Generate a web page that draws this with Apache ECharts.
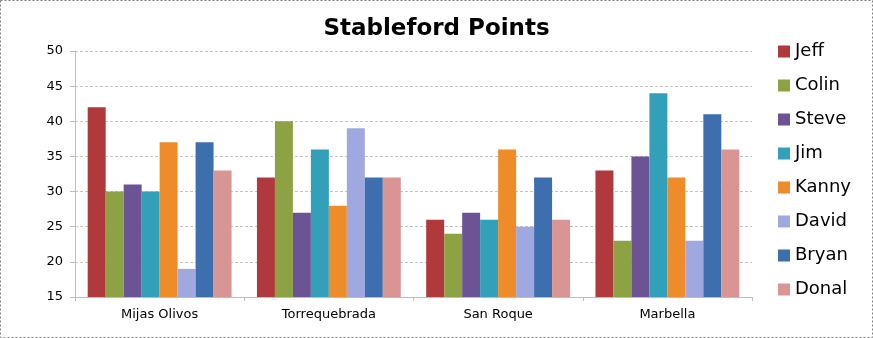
<!DOCTYPE html>
<html><head><meta charset="utf-8">
<script src="https://cdn.jsdelivr.net/npm/echarts@6/dist/echarts.min.js"></script>
<style>html,body{margin:0;padding:0;background:#fff}#c{width:873px;height:338px}</style>
</head><body><div id="c"></div>
<script>
const categories = ['Mijas Olivos', 'Torrequebrada', 'San Roque', 'Marbella'];
const players = ['Jeff', 'Colin', 'Steve', 'Jim', 'Kanny', 'David', 'Bryan', 'Donal'];
const jeff  = [42, 32, 26, 33];
const colin = [30, 40, 24, 23];
const steve = [31, 27, 27, 35];
const jim   = [30, 36, 26, 44];
const kanny = [37, 28, 36, 32];
const david = [19, 39, 25, 23];
const bryan = [37, 32, 32, 41];
const donal = [33, 32, 26, 36];
const seriesValues = [jeff, colin, steve, jim, kanny, david, bryan, donal];
const colors = ['#B0393B', '#8DA343', '#6B5396', '#33A0BA', '#EE8C2A', '#A0A9DF', '#3D6FAF', '#D99594'];
const yTicks = [15, 20, 25, 30, 35, 40, 45, 50];

const chart = echarts.init(document.getElementById('c'));
chart.setOption({
  animation: false,
  color: colors,
  title: {
    text: 'Stableford Points', left: 'center', top: 13,
    textStyle: { fontFamily: 'DejaVu Sans', fontWeight: 'bold', fontSize: 23, color: '#000' }
  },
  graphic: [{
    type: 'rect', shape: { x: 0.5, y: 0.5, width: 872, height: 337 },
    style: { fill: 'none', stroke: '#808080', lineWidth: 1, lineDash: [2, 2] }, silent: true
  }],
  legend: {
    orient: 'vertical', left: 773, top: 37,
    itemWidth: 12, itemHeight: 12, itemGap: 15,
    icon: 'rect',
    textStyle: { fontFamily: 'DejaVu Sans', fontSize: 18, color: '#000', lineHeight: 19 },
    data: players
  },
  grid: { left: 75, right: 121, top: 51, bottom: 41 },
  xAxis: {
    type: 'category', data: categories,
    axisLine: { lineStyle: { color: '#BDBDBD' } },
    axisTick: { show: true, length: 4, lineStyle: { color: '#BDBDBD' } },
    axisLabel: { fontFamily: 'DejaVu Sans', fontSize: 13, color: '#000', margin: 11 }
  },
  yAxis: {
    type: 'value', min: 15, max: 50, interval: 5,
    axisLine: { show: true, lineStyle: { color: '#BDBDBD' } },
    axisTick: { show: true, length: 5, lineStyle: { color: '#BDBDBD' } },
    axisLabel: { fontFamily: 'DejaVu Sans', fontSize: 13, color: '#000', margin: 12 },
    splitLine: { lineStyle: { color: '#C4C4C4', type: [3, 2] } }
  },
  series: players.map((p, i) => ({
    name: p, type: 'bar', data: seriesValues[i],
    barGap: '0%', barCategoryGap: '15%'
  }))
});
</script></body></html>
